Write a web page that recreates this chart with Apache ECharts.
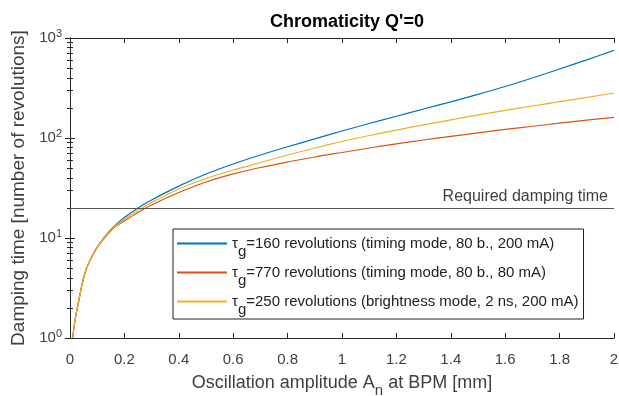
<!DOCTYPE html>
<html>
<head>
<meta charset="utf-8">
<script src="https://cdn.jsdelivr.net/npm/echarts@6/dist/echarts.min.js"></script>
<style>
  html, body { margin: 0; padding: 0; background: #fff; }
  #main { width: 619px; height: 396px; }
</style>
</head>
<body>
<div id="main"></div>
<script>
// oscillation amplitude [mm]
var ampl = [0.01, 0.015, 0.02, 0.03, 0.045, 0.06, 0.08, 0.1, 0.13, 0.16, 0.2, 0.25, 0.3, 0.4, 0.5, 0.6, 0.7, 0.8, 0.9, 1.0, 1.1, 1.2, 1.3, 1.4, 1.5, 1.6, 1.7, 1.8, 1.9, 2.0];
// damping time [revolutions]
var tau160 = [1.0, 1.3, 1.6, 2.2, 3.5, 4.9, 6.5, 8.1, 10.5, 12.9, 16.0, 20, 24, 33, 43.6, 55, 67.6, 81.7, 98, 117.5, 139.6, 165, 195, 230, 273, 327, 398, 490, 605, 753];
var tau770 = [1.0, 1.3, 1.6, 2.2, 3.5, 4.9, 6.45, 8.0, 10.2, 12.5, 14.8, 18, 21.4, 28.5, 36.3, 43.7, 50.7, 57.5, 64.6, 71.6, 79.4, 87.5, 95.5, 104, 112.7, 122, 131, 140.6, 150.7, 161];
var tau250 = [1.0, 1.3, 1.6, 2.2, 3.5, 4.9, 6.5, 8.05, 10.35, 12.7, 15.4, 18.8, 22.6, 30.9, 39.4, 47.9, 56.9, 67.6, 79.4, 92.3, 106, 120, 135.5, 152, 170, 189, 209, 230.7, 254.7, 282];
var names = [
  '{t|τ}{s|g}=160 revolutions (timing mode, 80 b., 200 mA)',
  '{t|τ}{s|g}=770 revolutions (timing mode, 80 b., 80 mA)',
  '{t|τ}{s|g}=250 revolutions (brightness mode, 2 ns, 200 mA)'
];
var colors = ['#0072BD', '#D95319', '#EDB120'];
var requiredTime = 20;

function pairs(ys) {
  return ampl.map(function (x, i) { return [x, ys[i]]; });
}

var font = 'Liberation Sans';
var gray = '#404040';

var chart = echarts.init(document.getElementById('main'));
var series = [tau160, tau770, tau250].map(function (ys, i) {
  return {
    name: names[i],
    type: 'line',
    data: pairs(ys),
    showSymbol: false,
    smooth: 0.3,
    lineStyle: { width: 1.2, color: colors[i] },
    itemStyle: { color: colors[i] }
  };
});
series[0].markLine = {
  silent: true,
  symbol: 'none',
  lineStyle: { color: '#555', width: 1, type: 'solid' },
  label: {
    show: true,
    position: 'insideEndTop',
    formatter: 'Required damping time',
    color: gray,
    fontFamily: font,
    fontSize: 16,
    distance: [6, 3]
  },
  data: [{ yAxis: requiredTime }]
};

var option = {
  animation: false,
  textStyle: { fontFamily: font },
  title: {
    text: "Chromaticity Q'=0",
    left: 342,
    textAlign: 'center',
    top: 8,
    textStyle: { fontSize: 18, fontWeight: 'bold', color: '#000', fontFamily: font }
  },
  grid: { left: 70, right: 5, top: 38, bottom: 58, outerBoundsMode: 'none', containLabel: false },
  legend: {
    orient: 'vertical',
    left: 173,
    top: 229,
    padding: [7, 5, 2, 4],
    itemGap: 6,
    itemWidth: 50,
    itemHeight: 2,
    icon: 'rect',
    backgroundColor: '#fff',
    borderColor: '#222',
    borderWidth: 1,
    borderRadius: 0,
    selectedMode: false,
    data: names,
    textStyle: {
      color: '#222',
      fontSize: 15,
      fontFamily: font,
      rich: {
        t: { fontSize: 15, fontFamily: font, color: '#222' },
        s: { fontSize: 15, fontFamily: font, color: '#222', verticalAlign: 'top', padding: [16, 0, 0, 0] }
      }
    }
  },
  xAxis: [{
    type: 'value',
    min: 0,
    max: 2,
    interval: 0.2,
    name: 'Oscillation amplitude A{s|n} at BPM [mm]',
    nameLocation: 'middle',
    nameGap: 30,
    nameTextStyle: {
      fontSize: 18, color: gray, fontFamily: font,
      rich: { s: { fontSize: 15, color: gray, fontFamily: font, verticalAlign: 'top', padding: [15, 0, 0, 0] } }
    },
    axisLine: { lineStyle: { color: '#262626', width: 1 } },
    axisTick: { inside: true, length: 5, lineStyle: { color: '#262626' } },
    axisLabel: { color: gray, fontSize: 15, margin: 14, fontFamily: font },
    splitLine: { show: false }
  }, {
    type: 'value',
    position: 'top',
    min: 0,
    max: 2,
    interval: 0.2,
    axisLine: { show: true, lineStyle: { color: '#262626', width: 1 } },
    axisTick: { inside: true, length: 5, lineStyle: { color: '#262626' } },
    axisLabel: { show: false },
    splitLine: { show: false }
  }],
  yAxis: [{
    type: 'log',
    logBase: 10,
    min: 1,
    max: 1000,
    name: 'Damping time [number of revolutions]',
    nameLocation: 'middle',
    nameGap: 40,
    nameTextStyle: { fontSize: 19, color: gray, fontFamily: font },
    axisLine: { show: true, lineStyle: { color: '#262626', width: 1 } },
    axisTick: { inside: true, length: 5, lineStyle: { color: '#262626' } },
    minorTick: { show: true, splitNumber: 9, length: 3, lineStyle: { color: '#262626' } },
    axisLabel: {
      color: gray,
      fontSize: 15,
      margin: 8,
      fontFamily: font,
      formatter: function (v) {
        return '10{sup|' + Math.round(Math.log10(v)) + '}';
      },
      rich: {
        sup: { fontSize: 11, color: gray, fontFamily: font, verticalAlign: 'bottom', padding: [0, 0, 9, 0] }
      }
    },
    splitLine: { show: false }
  }, {
    type: 'log',
    logBase: 10,
    min: 1,
    max: 1000,
    position: 'right',
    axisLine: { show: true, lineStyle: { color: '#262626', width: 1 } },
    axisTick: { inside: true, length: 5, lineStyle: { color: '#262626' } },
    minorTick: { show: true, splitNumber: 9, length: 3, lineStyle: { color: '#262626' } },
    axisLabel: { show: false },
    splitLine: { show: false }
  }],
  series: series
};
chart.setOption(option);
</script>
</body>
</html>
